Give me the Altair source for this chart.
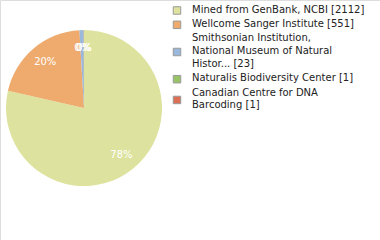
import altair as alt
import pandas as pd

labels = [
    "Mined from GenBank, NCBI [2112]",
    "Wellcome Sanger Institute [551]",
    "Smithsonian Institution,|National Museum of Natural|Histor... [23]",
    "Naturalis Biodiversity Center [1]",
    "Canadian Centre for DNA|Barcoding [1]",
]
counts = [2112, 551, 23, 1, 1]
colors = ["#dde39e", "#eeab6d", "#9ab8dc", "#9ac266", "#dc7055"]

# pie data
df = pd.DataFrame({"name": labels, "count": counts, "order": list(range(len(labels)))})

# legend layout (derived from the labels' line counts)
LEG_TOP, LINE_H, ENTRY_GAP = 9.5, 12.9, 1.4
line_rows, sym_rows = [], []
y = LEG_TOP
for name in labels:
    parts = name.split("|")
    ys = []
    for p in parts:
        line_rows.append({"text": p, "ypos": y})
        ys.append(y)
        y += LINE_H
    y += ENTRY_GAP
    sym_rows.append({"name": name, "ypos": (ys[0] + ys[-1]) / 2 + 1})
lines_df = pd.DataFrame(line_rows)
sym_df = pd.DataFrame(sym_rows)

color_scale = alt.Scale(domain=labels, range=colors)
ypix = alt.Scale(domain=[0, 240], range=[0, 240], zero=False, nice=False)

base = alt.Chart(df).transform_joinaggregate(total="sum(count)").transform_calculate(
    pct="floor(datum.count / datum.total * 100) + '%'"
)

pie = base.mark_arc(radius=78, stroke=None).encode(
    theta=alt.Theta("count:Q", stack=True),
    order=alt.Order("order:Q"),
    color=alt.Color("name:N", scale=color_scale, legend=None),
    x=alt.value(84),
    y=alt.value(108),
)

text = base.mark_text(radius=60, color="white", font="DejaVu Sans", fontSize=10).encode(
    theta=alt.Theta("count:Q", stack=True),
    order=alt.Order("order:Q"),
    text="pct:N",
    x=alt.value(84),
    y=alt.value(108),
)

leg_sym = alt.Chart(sym_df).mark_square(
    size=56, opacity=1, filled=True, stroke="#999999", strokeWidth=1
).encode(
    x=alt.value(177),
    y=alt.Y("ypos:Q", scale=ypix, axis=None),
    color=alt.Color("name:N", scale=color_scale, legend=None),
)

leg_text = alt.Chart(lines_df).mark_text(
    align="left", baseline="middle", font="DejaVu Sans", fontSize=10, color="#222222"
).encode(
    x=alt.value(192),
    y=alt.Y("ypos:Q", scale=ypix, axis=None),
    text="text:N",
)

chart = (
    alt.layer(pie, text, leg_sym, leg_text)
    .properties(width=380, height=240, padding=0, autosize=alt.AutoSizeParams(type="none"))
    .configure_view(stroke=None)
    .configure(background="white")
)

chart.save("out.html", embed_options={"renderer": "svg", "actions": False})
